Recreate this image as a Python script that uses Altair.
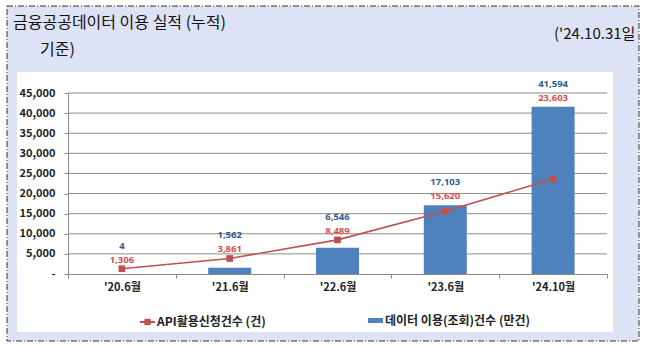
import altair as alt
import pandas as pd

# ---- data ----
categories = ["'20.6월", "'21.6월", "'22.6월", "'23.6월", "'24.10월"]
usage_values = [4, 1562, 6546, 17103, 41594]      # 데이터 이용(조회)건수 (만건) - bars
api_values = [1306, 3861, 8489, 15620, 23603]     # API활용신청건수 (건) - line
y_ticks = [0, 5000, 10000, 15000, 20000, 25000, 30000, 35000, 40000, 45000]
grid_values = [5000, 10000, 15000, 20000, 25000, 30000, 35000, 40000, 45000]

title_main = "금융공공데이터 이용 실적 (누적)"
title_sub = "기준)"
title_date = "('24.10.31일"
legend_line = "API활용신청건수 (건)"
legend_bar = "데이터 이용(조회)건수 (만건)"

FONT = "Noto Sans CJK KR"
W, H = 539, 181
PL, PT = 68, 93

df = pd.DataFrame({"cat": categories, "usage": usage_values, "api": api_values})
grid_df = pd.DataFrame({"v": grid_values})
one = pd.DataFrame({"a": [0]})

BAR = "#4f81bd"
LINE = "#c0504d"
BLUE_TXT = "#2f5a8f"
RED_TXT = "#cf524e"

x_axis = alt.Axis(title=None, labelAngle=0, tickBand="extent", grid=False,
                  domainColor="#8c8c8c", tickColor="#8c8c8c", tickSize=4,
                  labelFont=FONT, labelFontSize=11, labelFontWeight="bold",
                  labelColor="#222222", labelPadding=3, zindex=1)
y_axis = alt.Axis(title=None, values=y_ticks, grid=False,
                  labelExpr="datum.value == 0 ? '-' : format(datum.value, ',')",
                  domainColor="#8c8c8c", tickColor="#8c8c8c", tickSize=4,
                  labelFont=FONT, labelFontSize=11, labelFontWeight="bold",
                  labelColor="#222222", labelPadding=9, zindex=1)
x_enc = alt.X("cat:N", sort=categories,
              scale=alt.Scale(paddingInner=0, paddingOuter=0), axis=x_axis)
y_scale = alt.Scale(domain=[0, 45000], nice=False)

# ---- decoration ----
outer = alt.Chart(one).mark_rect(fill="#dde3f5", stroke="#333333", strokeWidth=1,
                                 strokeDash=[6, 2, 1, 2]).encode(
    x=alt.value(7 - PL), x2=alt.value(639 - PL),
    y=alt.value(6 - PT), y2=alt.value(341 - PT))
inner = alt.Chart(one).mark_rect(fill="white").encode(
    x=alt.value(17 - PL), x2=alt.value(613 - PL),
    y=alt.value(72 - PT), y2=alt.value(332 - PT))

t_main = alt.Chart(one).mark_text(text=title_main, font=FONT, fontSize=16,
                                  align="left", baseline="middle", color="#111111").encode(
    x=alt.value(13 - PL), y=alt.value(23 - PT))
t_sub = alt.Chart(one).mark_text(text=title_sub, font=FONT, fontSize=16,
                                 align="left", baseline="middle", color="#111111").encode(
    x=alt.value(40 - PL), y=alt.value(50 - PT))
t_date = alt.Chart(one).mark_text(text=title_date, font=FONT, fontSize=15,
                                  align="left", baseline="middle", color="#111111").encode(
    x=alt.value(554 - PL), y=alt.value(34 - PT))

# ---- chart layers ----
grid = alt.Chart(grid_df).mark_rule(color="#8c8c8c", strokeWidth=1).encode(
    y=alt.Y("v:Q", scale=y_scale, axis=y_axis))

bars = alt.Chart(df).mark_bar(color=BAR, size=43).encode(
    x=x_enc, y=alt.Y("usage:Q", scale=y_scale, axis=y_axis))

line = alt.Chart(df).mark_line(color=LINE, strokeWidth=1.6).encode(
    x=x_enc, y=alt.Y("api:Q", scale=y_scale, axis=y_axis))
pts = alt.Chart(df).mark_point(shape="square", filled=True, color=LINE, size=45, opacity=1).encode(
    x=x_enc, y=alt.Y("api:Q", scale=y_scale, axis=y_axis))

base_lbl = alt.Chart(df).transform_calculate(top="max(datum.usage, datum.api)")
lbl_red = base_lbl.mark_text(font="Noto Sans", fontSize=9.5, fontWeight="bold", color=RED_TXT,
                             baseline="middle", dy=-9).encode(
    x=x_enc, y=alt.Y("top:Q", scale=y_scale, axis=y_axis),
    text=alt.Text("api:Q", format=","))
lbl_blue = base_lbl.mark_text(font="Noto Sans", fontSize=9.5, fontWeight="bold", color=BLUE_TXT,
                              baseline="middle", dy=-23).encode(
    x=x_enc, y=alt.Y("top:Q", scale=y_scale, axis=y_axis),
    text=alt.Text("usage:Q", format=","))

# ---- legend ----
lg_rule = alt.Chart(one).mark_rule(color=LINE, strokeWidth=2).encode(
    x=alt.value(140 - PL), x2=alt.value(155 - PL), y=alt.value(322 - PT))
lg_sq = alt.Chart(one).mark_point(shape="square", filled=True, color=LINE, size=40, opacity=1).encode(
    x=alt.value(147.5 - PL), y=alt.value(322 - PT))
lg_t1 = alt.Chart(one).mark_text(text=legend_line, font=FONT, fontSize=12, fontWeight="bold",
                                 align="left", baseline="middle", color="#222222").encode(
    x=alt.value(157 - PL), y=alt.value(322 - PT))
lg_rect = alt.Chart(one).mark_rect(fill=BAR).encode(
    x=alt.value(368 - PL), x2=alt.value(383 - PL),
    y=alt.value(318 - PT), y2=alt.value(323 - PT))
lg_t2 = alt.Chart(one).mark_text(text=legend_bar, font=FONT, fontSize=12, fontWeight="bold",
                                 align="left", baseline="middle", color="#222222").encode(
    x=alt.value(385 - PL), y=alt.value(321 - PT))

chart = alt.layer(
    outer, inner, t_main, t_sub, t_date,
    grid, bars, line, pts, lbl_red, lbl_blue,
    lg_rule, lg_sq, lg_t1, lg_rect, lg_t2,
).properties(
    width=W, height=H,
    autosize=alt.AutoSizeParams(type="none"),
    padding={"left": PL, "top": PT, "right": 646 - PL - W, "bottom": 357 - PT - H},
    background="white",
).configure_view(stroke=None)

chart.save("out.html", embed_options={"renderer": "svg", "actions": False})
